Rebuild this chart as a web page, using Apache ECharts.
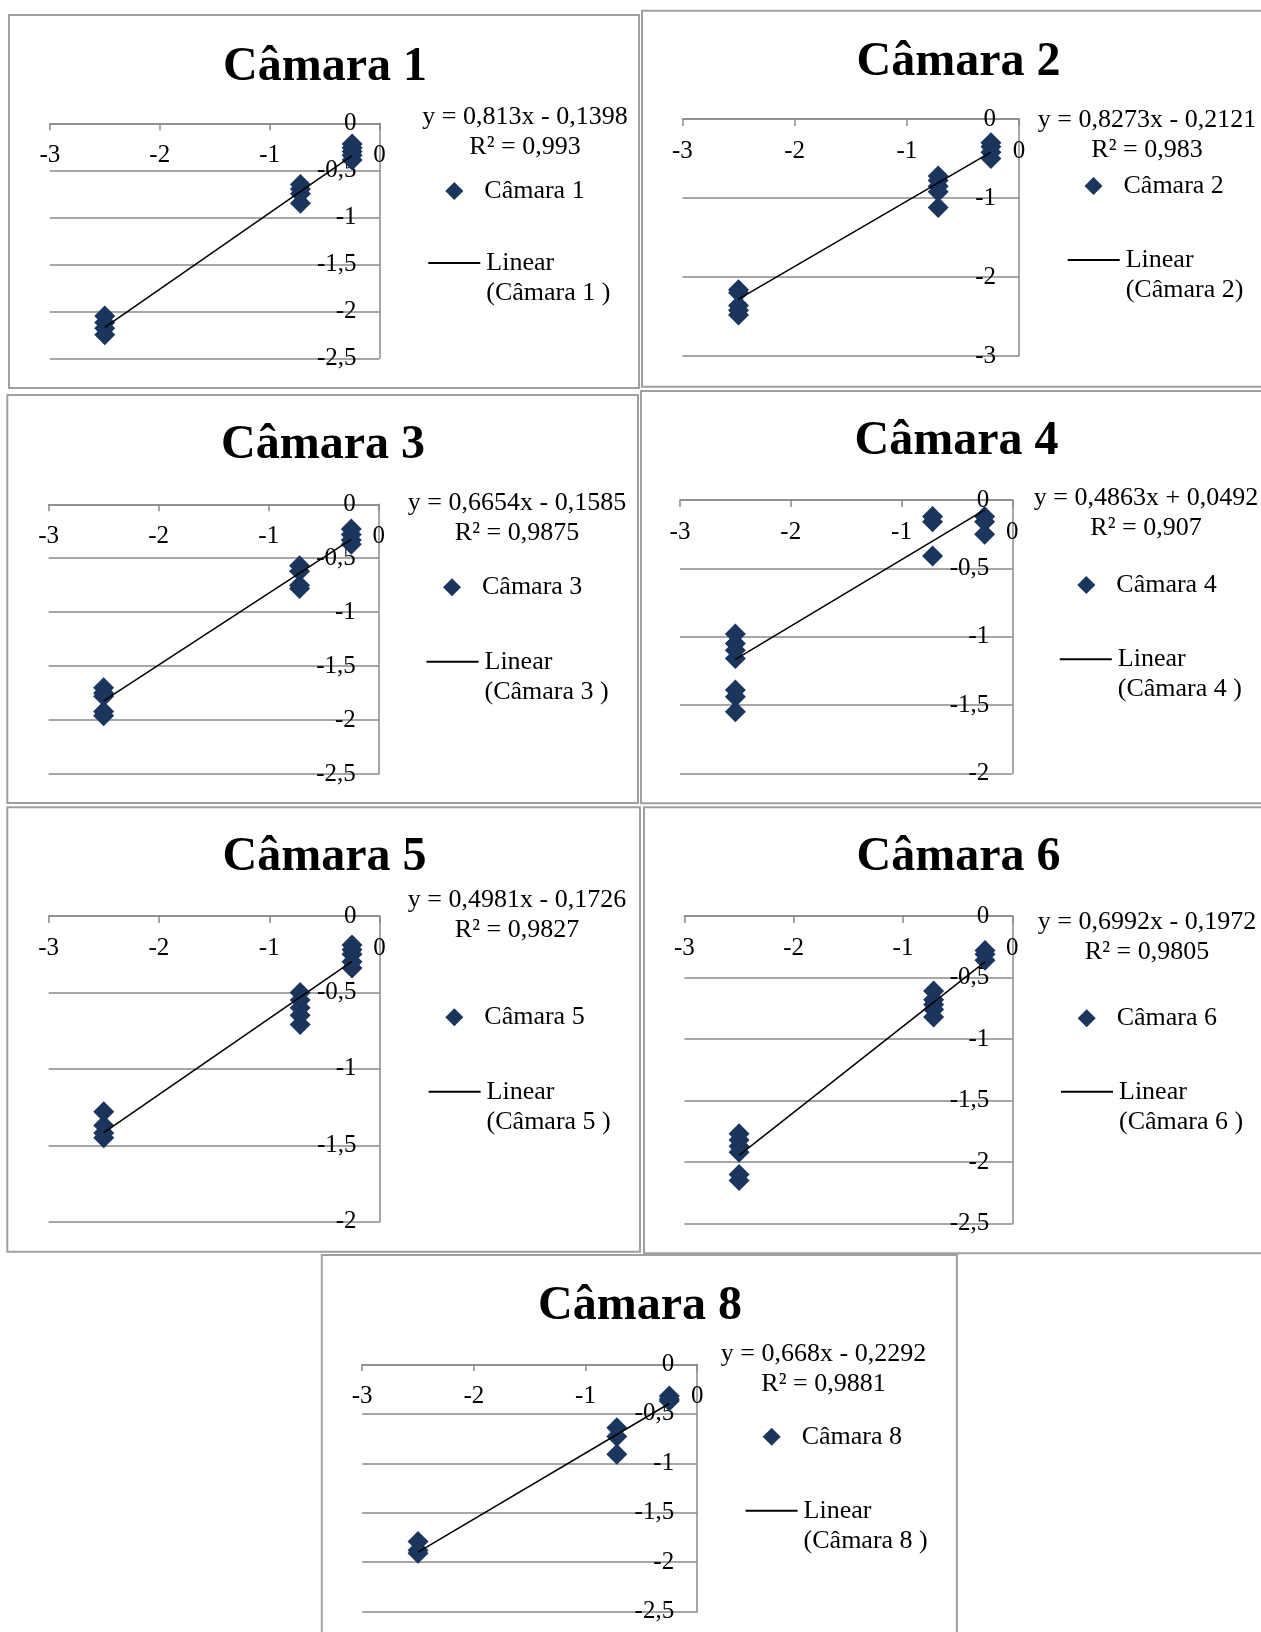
<!DOCTYPE html>
<html><head><meta charset="utf-8">
<script src="https://cdn.jsdelivr.net/npm/echarts@6/dist/echarts.min.js"></script>
<style>html,body{margin:0;padding:0;background:#fff}#c{width:1261px;height:1632px}</style>
</head><body><div id="c"></div>
<script>
// ---------- DATA ----------
const cameras = ['Câmara 1','Câmara 2','Câmara 3','Câmara 4','Câmara 5','Câmara 6','Câmara 8'];
const trendNames = ['Linear (Câmara 1 )','Linear (Câmara 2)','Linear (Câmara 3 )','Linear (Câmara 4 )','Linear (Câmara 5 )','Linear (Câmara 6 )','Linear (Câmara 8 )'];
const equations = ['y = 0,813x - 0,1398','y = 0,8273x - 0,2121','y = 0,6654x - 0,1585','y = 0,4863x + 0,0492','y = 0,4981x - 0,1726','y = 0,6992x - 0,1972','y = 0,668x - 0,2292'];
const rSquared = ['R² = 0,993','R² = 0,983','R² = 0,9875','R² = 0,907','R² = 0,9827','R² = 0,9805','R² = 0,9881'];
const xMin = -3, xMax = 0, xInterval = 1;
const yMins = [-2.5,-3,-2.5,-2,-2,-2.5,-2.5];
const yIntervals = [0.5,1,0.5,0.5,0.5,0.5,0.5];

const cam1 = [[-2.5,-2.05],[-2.5,-2.12],[-2.5,-2.18],[-2.5,-2.25],[-0.72,-0.65],[-0.72,-0.7],[-0.72,-0.75],[-0.72,-0.85],[-0.25,-0.22],[-0.25,-0.26],[-0.25,-0.3],[-0.25,-0.34],[-0.25,-0.39]];
const cam2 = [[-2.5,-2.16],[-2.5,-2.2],[-2.5,-2.36],[-2.5,-2.42],[-2.5,-2.48],[-0.72,-0.72],[-0.72,-0.78],[-0.72,-0.85],[-0.72,-0.92],[-0.72,-1.12],[-0.25,-0.3],[-0.25,-0.35],[-0.25,-0.42],[-0.25,-0.5]];
const cam3 = [[-2.5,-1.7],[-2.5,-1.75],[-2.5,-1.78],[-2.5,-1.92],[-2.5,-1.96],[-0.72,-0.57],[-0.72,-0.62],[-0.72,-0.75],[-0.72,-0.78],[-0.25,-0.23],[-0.25,-0.28],[-0.25,-0.33],[-0.25,-0.37]];
const cam4 = [[-2.5,-0.98],[-2.5,-1.05],[-2.5,-1.1],[-2.5,-1.16],[-2.5,-1.39],[-2.5,-1.44],[-2.5,-1.55],[-0.72,-0.12],[-0.72,-0.16],[-0.72,-0.41],[-0.25,-0.12],[-0.25,-0.16],[-0.25,-0.25]];
const cam5 = [[-2.5,-1.28],[-2.5,-1.37],[-2.5,-1.42],[-2.5,-1.45],[-0.72,-0.5],[-0.72,-0.55],[-0.72,-0.6],[-0.72,-0.65],[-0.72,-0.71],[-0.25,-0.19],[-0.25,-0.22],[-0.25,-0.25],[-0.25,-0.3],[-0.25,-0.34]];
const cam6 = [[-2.5,-1.77],[-2.5,-1.82],[-2.5,-1.87],[-2.5,-1.92],[-2.5,-2.1],[-2.5,-2.15],[-0.72,-0.61],[-0.72,-0.68],[-0.72,-0.72],[-0.72,-0.76],[-0.72,-0.82],[-0.25,-0.28],[-0.25,-0.31],[-0.25,-0.36]];
const cam8 = [[-2.5,-1.79],[-2.5,-1.88],[-2.5,-1.91],[-0.72,-0.64],[-0.72,-0.73],[-0.72,-0.91],[-0.25,-0.32],[-0.25,-0.35],[-0.25,-0.37]];
const camData = [cam1,cam2,cam3,cam4,cam5,cam6,cam8];

const trend1 = [[-2.5,-2.172],[-0.25,-0.343]];
const trend2 = [[-2.5,-2.280],[-0.25,-0.419]];
const trend3 = [[-2.5,-1.822],[-0.25,-0.325]];
const trend4 = [[-2.5,-1.167],[-0.25,-0.072]];
const trend5 = [[-2.5,-1.418],[-0.25,-0.297]];
const trend6 = [[-2.5,-1.945],[-0.25,-0.372]];
const trend8 = [[-2.5,-1.899],[-0.25,-0.396]];
const trendData = [trend1,trend2,trend3,trend4,trend5,trend6,trend8];

// ---------- LAYOUT (pixels) ----------
const layout = [
  {grid:[49.8,123.3,329.8,235],  box:[9,15,630,373],       title:[223,83],    eq:[525,117],    dia:[454.3,191],   line:[428.3,263]},
  {grid:[682.4,119,336.6,237],   box:[642,10.7,640,376],   title:[856.5,78],  eq:[1147,120],   dia:[1093.5,186],  line:[1067.7,260]},
  {grid:[48.6,504.3,330.2,269.7],box:[7.3,395,630.7,408],  title:[221,461.3], eq:[517,502.7],  dia:[452,587.3],   line:[426.5,661.7]},
  {grid:[680,500,332.3,273.3],   box:[641,391,640,412.3],  title:[854.5,457], eq:[1146,498.3], dia:[1086.3,585],  line:[1059.8,659.3]},
  {grid:[48.6,916,331,305.7],    box:[7.3,807.3,632.7,444.4],title:[222.5,872.7],eq:[517,900], dia:[454.3,1017.3],line:[428.6,1091.7]},
  {grid:[684.4,916,327.9,307.7], box:[644,807.3,640,446],  title:[856.5,872.7],eq:[1147,921.7],dia:[1086.7,1018.3],line:[1061,1091.7]},
  {grid:[362.2,1364.3,335,247.4],box:[321.8,1255,635.1,400],title:[538,1322], eq:[823.5,1354], dia:[771.7,1436.7],line:[745.6,1510.7]}
];

const FONT = 'Liberation Serif';
const GREY = '#8a8a8a';
const NAVY = '#1b355c';
const fmt = v => String(v).replace('.', ',');

const grid = [], xAxis = [], yAxis = [], series = [], legend = [], title = [], graphic = [];
layout.forEach((L, i) => {
  grid.push({left:L.grid[0], top:L.grid[1], width:L.grid[2], height:L.grid[3], containLabel:false});
  xAxis.push({type:'value', gridIndex:i, position:'top', min:xMin, max:xMax, interval:xInterval,
    axisLine:{onZero:false, lineStyle:{color:GREY, width:1.5}},
    axisTick:{show:true, inside:true, length:7, lineStyle:{color:GREY, width:1.5}},
    axisLabel:{inside:true, margin:20, color:'#000', fontFamily:FONT, fontSize:25, formatter:fmt},
    splitLine:{show:false}});
  yAxis.push({type:'value', gridIndex:i, position:'right', min:yMins[i], max:0, interval:yIntervals[i],
    axisLine:{onZero:false, show:true, lineStyle:{color:GREY, width:1.5}},
    axisTick:{show:false},
    axisLabel:{inside:true, margin:23, color:'#000', fontFamily:FONT, fontSize:25, formatter:fmt},
    splitLine:{show:true, lineStyle:{color:GREY, width:1.5}}});
  series.push({type:'scatter', name:cameras[i], xAxisIndex:i, yAxisIndex:i, data:camData[i],
    symbol:'diamond', symbolSize:21, itemStyle:{color:NAVY, opacity:1}, z:3, animation:false});
  series.push({type:'line', name:trendNames[i], xAxisIndex:i, yAxisIndex:i, data:trendData[i],
    symbol:'none', showSymbol:false, lineStyle:{color:'#000', width:1.5}, itemStyle:{color:'#000'}, z:4, animation:false});
  legend.push({data:[{name:cameras[i], icon:'diamond'}], left:L.dia[0]-9, top:L.dia[1]-15, padding:0,
    itemWidth:18, itemHeight:18, selectedMode:false, itemStyle:{color:NAVY, opacity:1},
    textStyle:{fontFamily:FONT, fontSize:26, color:'#000', lineHeight:30, padding:[0,0,0,16]}});
  legend.push({data:[{name:trendNames[i], icon:'rect'}], left:L.line[0], top:L.line[1]-45, padding:0,
    itemWidth:52, itemHeight:2, selectedMode:false, itemStyle:{color:'#000'},
    formatter: n => '\n' + n.replace('Linear ', 'Linear\n'),
    textStyle:{fontFamily:FONT, fontSize:26, color:'#000', lineHeight:30, padding:[0,0,0,1]}});
  title.push({text:cameras[i], left:L.title[0], top:L.title[1]-39.5, padding:0,
    textStyle:{fontFamily:FONT, fontWeight:'bold', fontSize:48, color:'#000', lineHeight:48}});
  graphic.push({type:'rect', shape:{x:L.box[0], y:L.box[1], width:L.box[2], height:L.box[3]},
    style:{fill:'none', stroke:'#a0a0a0', lineWidth:2}, z:-1, silent:true});
  graphic.push({type:'text', x:L.eq[0], y:L.eq[1]-15, silent:true,
    style:{text:equations[i] + '\n' + rSquared[i], fill:'#000', fontFamily:FONT, fontSize:26, lineHeight:30,
      align:'center', verticalAlign:'top', textAlign:'center', textVerticalAlign:'top'}});
});

const chart = echarts.init(document.getElementById('c'), null, {renderer:'canvas', width:1261, height:1632});
chart.setOption({animation:false, backgroundColor:'#fff', title, grid, xAxis, yAxis, series, legend, graphic, tooltip:{show:false}});
</script></body></html>
